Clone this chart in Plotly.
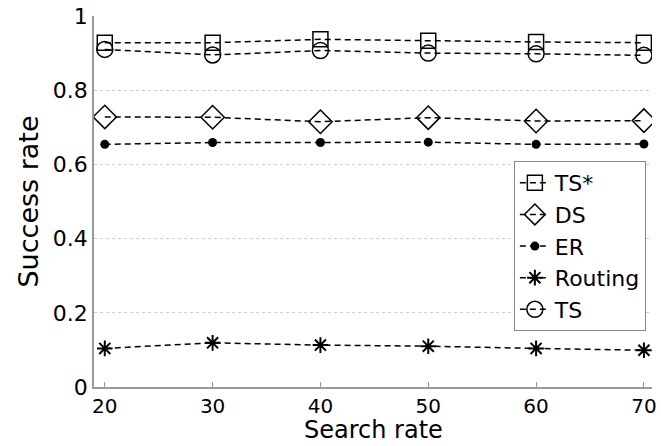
import plotly.graph_objects as go

search_rate = [20, 30, 40, 50, 60, 70]
ts_star = [0.928, 0.928, 0.937, 0.933, 0.930, 0.928]
ds = [0.728, 0.727, 0.715, 0.726, 0.717, 0.718]
er = [0.654, 0.659, 0.659, 0.660, 0.654, 0.655]
routing = [0.104, 0.119, 0.113, 0.110, 0.104, 0.099]
ts = [0.910, 0.895, 0.907, 0.900, 0.898, 0.894]

y_ticks = [0, 0.2, 0.4, 0.6, 0.8, 1]
y_tick_text = ["0", "0.2", "0.4", "0.6", "0.8", "1"]
x_ticks = [20, 30, 40, 50, 60, 70]

series = [
    ("TS*", ts_star, "square-open", 15, 1.5),
    ("DS", ds, "diamond-open", 18, 1.5),
    ("ER", er, "circle", 9, 0),
    ("Routing", routing, "asterisk-open", 13, 2),
    ("TS", ts, "circle-open", 16, 1.5),
]

fig = go.Figure()
for name, vals, sym, size, lw in series:
    fig.add_trace(go.Scatter(
        x=search_rate, y=vals, name=name, mode="lines+markers",
        line=dict(color="black", width=1.5, dash="6px,4px"),
        marker=dict(symbol=sym, size=size, color="black",
                    line=dict(color="black", width=lw)),
    ))

font = "DejaVu Sans, Arial, sans-serif"
fig.update_layout(
    width=661, height=446,
    margin=dict(l=94, r=9, t=16, b=59),
    paper_bgcolor="white", plot_bgcolor="white",
    font=dict(family=font, color="black", size=22),
    showlegend=True,
    legend=dict(x=0.989, y=0.609, xanchor="right", yanchor="top",
                bordercolor="#888888", borderwidth=1, bgcolor="white",
                font=dict(size=22), tracegroupgap=0, itemwidth=30),
    xaxis=dict(range=[19, 70.75], tickvals=x_ticks, showgrid=False,
               showline=True, linecolor="#999999", linewidth=1.5,
               ticks="inside", ticklen=5, tickcolor="#999999",
               zeroline=False, automargin=False,
               tickfont=dict(size=20)),
    yaxis=dict(range=[0, 1], tickvals=y_ticks, ticktext=y_tick_text,
               showgrid=True, gridcolor="#cccccc", griddash="dot", gridwidth=1,
               showline=True, linecolor="#999999", linewidth=1.5,
               ticks="", zeroline=False, automargin=False,
               title=dict(text="Success rate", font=dict(size=27), standoff=6),
               tickfont=dict(size=22)),
    annotations=[dict(text="Search rate", xref="paper", yref="paper",
                      x=0.5, y=0, xanchor="center", yanchor="bottom",
                      yshift=-59, showarrow=False,
                      font=dict(size=24, family=font, color="black"))],
)

fig.write_html("out.html")
